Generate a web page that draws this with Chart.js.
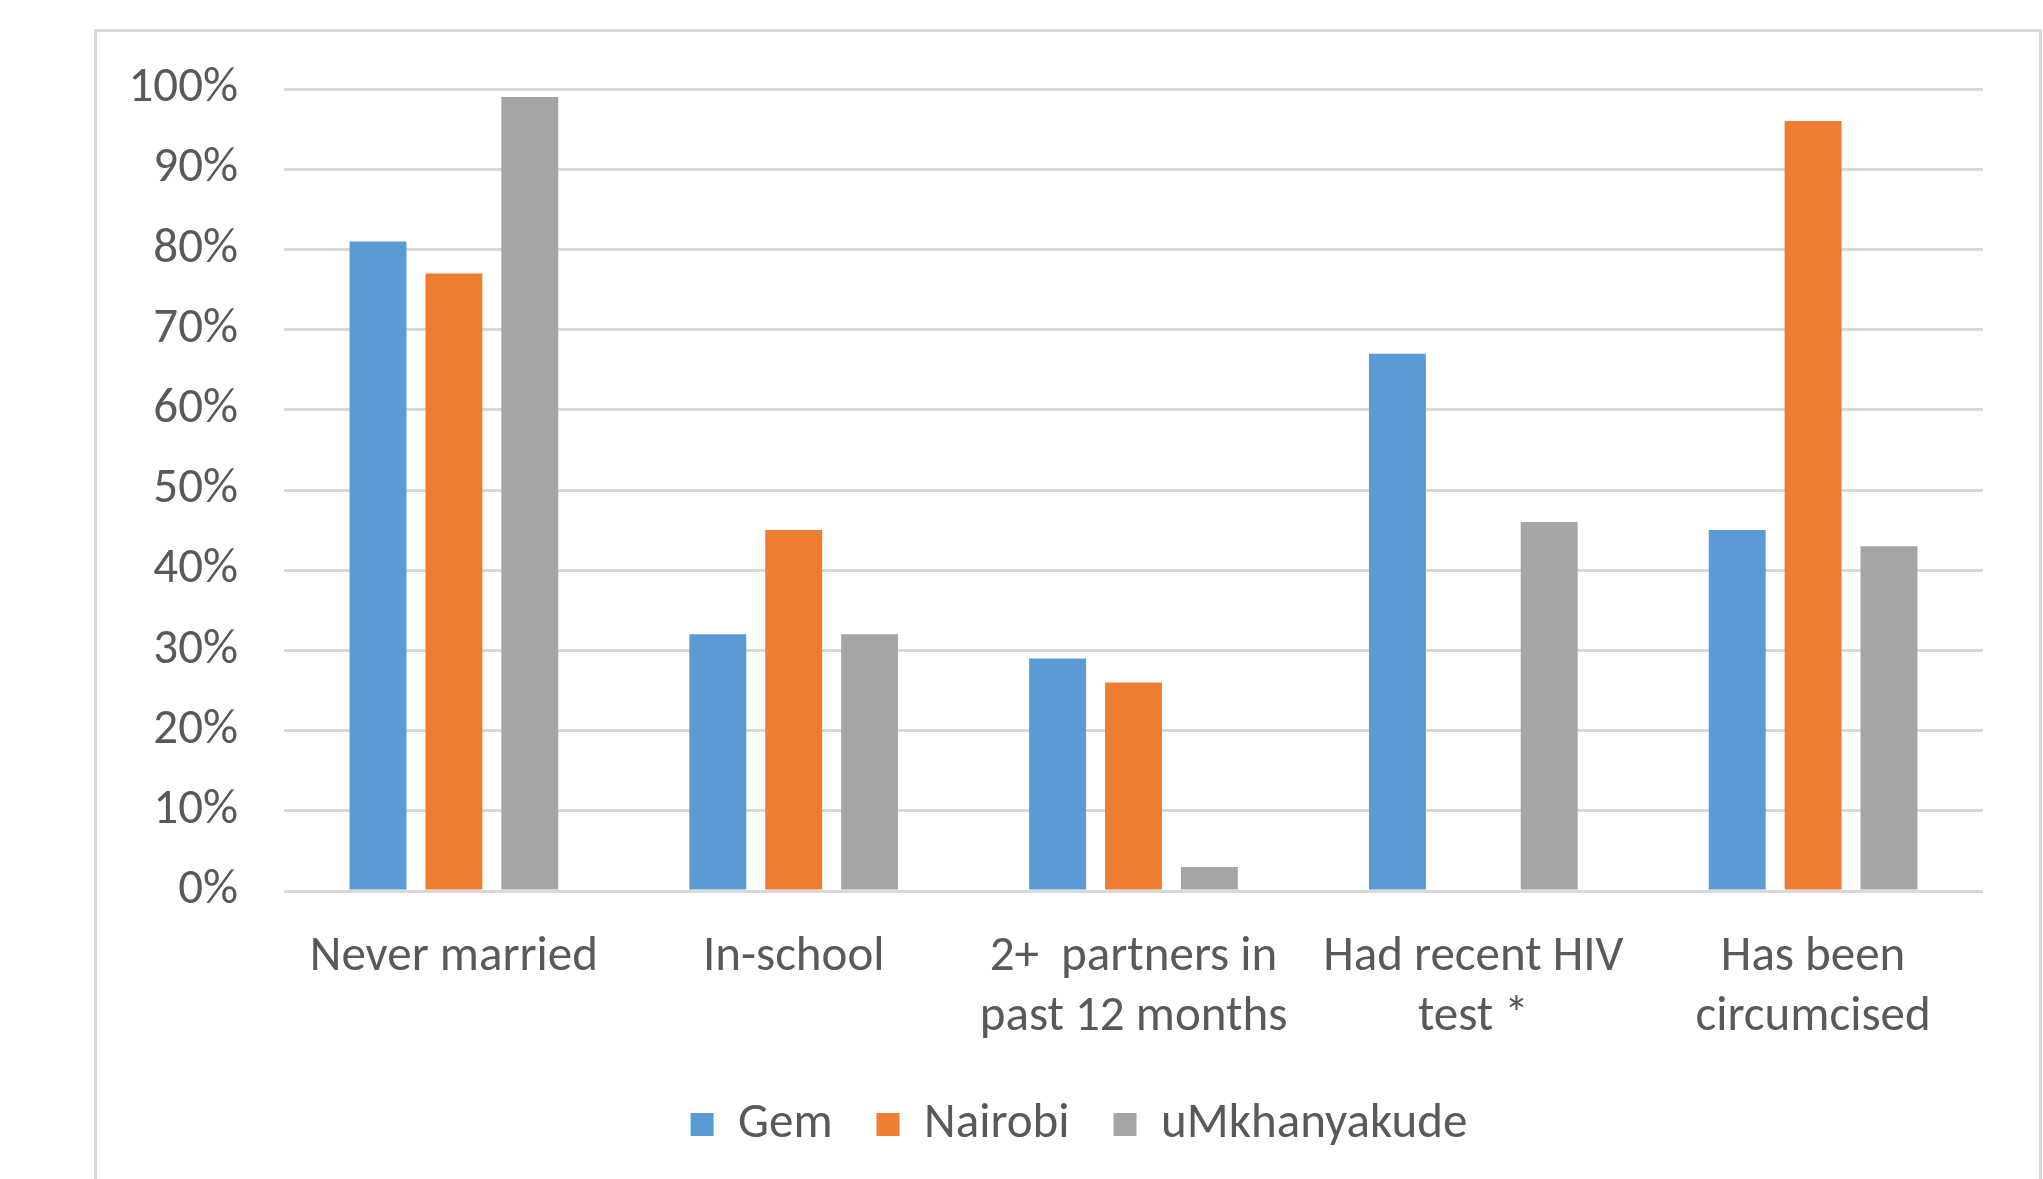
<!DOCTYPE html>
<html>
<head>
<meta charset="utf-8">
<script src="https://cdn.jsdelivr.net/npm/chart.js@4/dist/chart.umd.min.js"></script>
<style>
  html, body { margin: 0; padding: 0; background: #fff; overflow: hidden; width: 2043px; height: 1179px; }
  #frame {
    position: absolute; left: 94px; top: 29px;
    width: 1948px; height: 1200px;
    border: 3px solid #d9d9d9; border-bottom: none;
    box-sizing: border-box;
  }
  #chart { position: absolute; left: 0; top: 0; }
</style>
</head>
<body>
<div id="frame"><canvas id="chart" width="1942" height="1150"></canvas></div>
<script>
// categories and values (percent)
const categories = [
    'Never married',
    'In-school',
    ['2+  partners in', 'past 12 months'],
    ['Had recent HIV', 'test *'],
    ['Has been', 'circumcised']
];
const gem = [81, 32, 29, 67, 45];
const nairobi = [77, 45, 26, null, 96];
const umkhanyakude = [99, 32, 3, 46, 43];
const yTicks = [0, 10, 20, 30, 40, 50, 60, 70, 80, 90, 100];

const textColor = '#595959';
const fontFamily = 'Calibri, Carlito, Lato, sans-serif';
const fontSize = 49;

// legend in the original is centred on the whole chart frame, not the plot
const legendShift = {
    id: 'legendShift',
    afterLayout(chart) {
        chart.legend.left += 78;
    }
};

const ctx = document.getElementById('chart').getContext('2d');
const chart = new Chart(ctx, {
    type: 'bar',
    data: {
        labels: categories,
        datasets: [{
            label: 'Gem',
            data: gem,
            backgroundColor: '#5B9BD5'
        }, {
            label: 'Nairobi',
            data: nairobi,
            backgroundColor: '#ED7D31'
        }, {
            label: 'uMkhanyakude',
            data: umkhanyakude,
            backgroundColor: '#A5A5A5'
        }]
    },
    plugins: [legendShift],
    options: {
        responsive: false,
        animation: false,
        devicePixelRatio: 1,
        categoryPercentage: 0.67,
        barPercentage: 0.75,
        layout: {
            padding: { left: 0, right: 56, top: 57, bottom: 23 }
        },
        scales: {
            x: {
                grid: { display: false },
                border: { display: false },
                ticks: {
                    color: textColor,
                    padding: 29,
                    maxRotation: 0,
                    autoSkip: false,
                    font: { family: fontFamily, size: fontSize, lineHeight: 1.224 }
                },
                afterFit: function(scale) { scale.height = 165; }
            },
            y: {
                min: 0,
                max: 100,
                afterBuildTicks: function(scale) {
                    scale.ticks = yTicks.map(v => ({ value: v }));
                },
                grid: {
                    color: '#d9d9d9',
                    lineWidth: 3,
                    drawTicks: false
                },
                border: { display: false },
                ticks: {
                    color: textColor,
                    padding: 46,
                    font: { family: fontFamily, size: fontSize },
                    callback: function(value) { return value + '%'; }
                },
                afterFit: function(scale) {
                    scale.width = 187;
                    scale.paddingTop = 0;
                    scale.paddingBottom = 0;
                }
            }
        },
        plugins: {
            tooltip: { enabled: false },
            legend: {
                position: 'bottom',
                labels: {
                    color: textColor,
                    boxWidth: 23,
                    boxHeight: 23,
                    padding: 44,
                    font: { family: fontFamily, size: fontSize }
                }
            }
        }
    }
});
</script>
</body>
</html>
